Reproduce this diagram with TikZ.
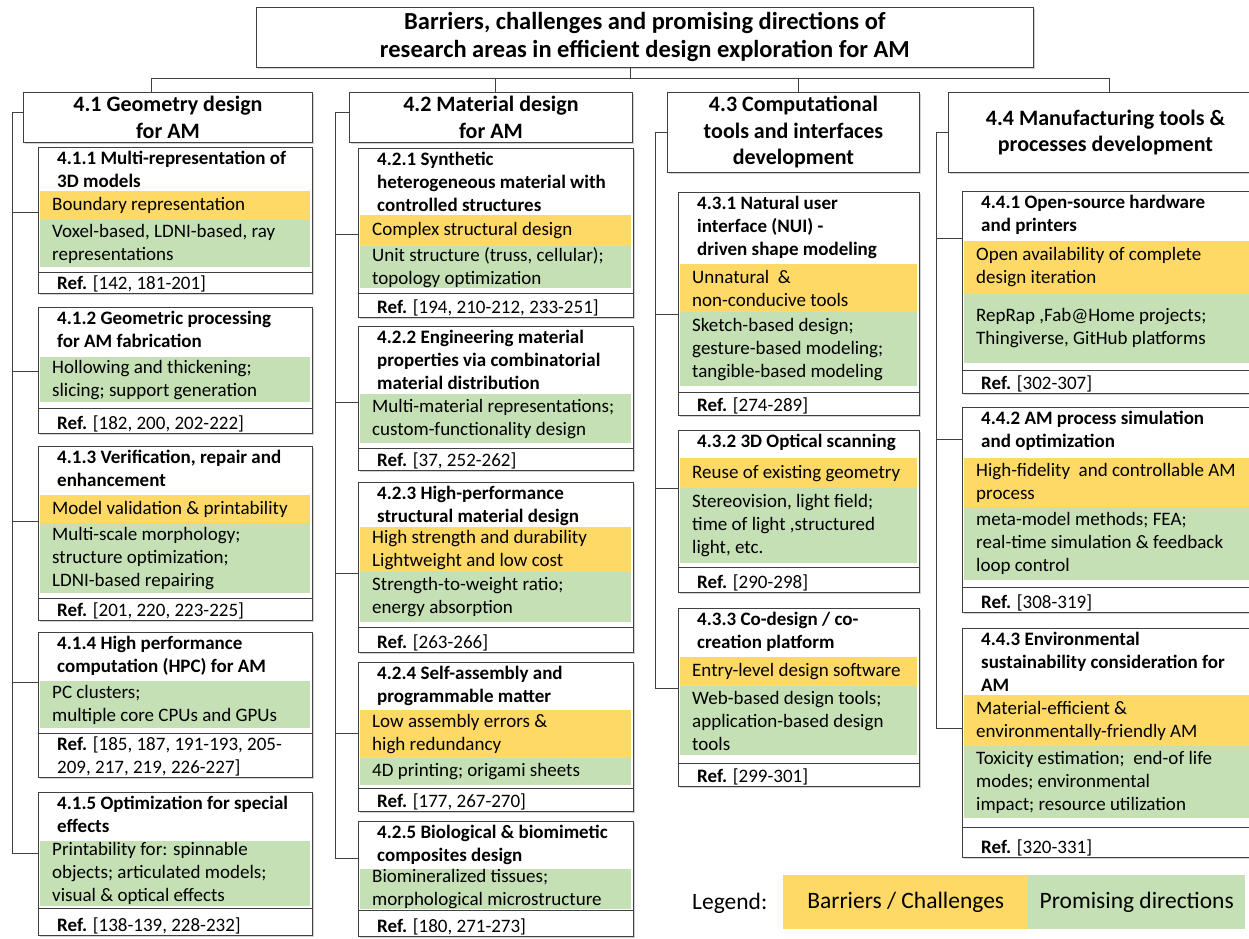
\documentclass[tikz,border=0pt]{standalone}
\usepackage{fontspec}
\setmainfont{Carlito}
\usepackage{tikz}
\usetikzlibrary{shadows}

\definecolor{barrierc}{HTML}{FFD966}
\definecolor{promisec}{HTML}{C5E0B4}
\definecolor{framec}{HTML}{404040}

\newcommand{\bodyfont}{\fontsize{19}{23}\selectfont}
\newcommand{\headfont}{\fontsize{22}{26.5}\selectfont\bfseries}
\newcommand{\legfont}{\fontsize{23.5}{28}\selectfont}

\tikzset{
  areabox/.style={draw=framec, line width=0.9pt, fill=white, anchor=north west, inner sep=0pt,
    drop shadow={shadow xshift=2pt, shadow yshift=-2pt, opacity=0.35}},
  areahead/.style={areabox, align=center, font=\headfont},
  subhead/.style={anchor=north west, xshift=19pt, yshift=-4pt, align=left, inner sep=0pt, font=\bodyfont\bfseries},
  challenge/.style={anchor=north west, fill=barrierc, inner sep=0pt},
  promising/.style={anchor=north west, fill=promisec, inner sep=0pt},
  bandtext/.style={anchor=west, xshift=12pt, align=left, inner sep=0pt, font=\bodyfont},
  reftext/.style={anchor=south west, xshift=19pt, yshift=2pt, align=left, inner sep=0pt, font=\bodyfont},
  divider/.style={draw=framec, line width=0.9pt},
  branch/.style={draw=framec, line width=0.8pt},
}

\begin{document}
\begin{tikzpicture}[x=1pt, y=-1pt]
\useasboundingbox (0,0) rectangle (1249,938);

% title and area headers
\node[areahead, minimum width=777, minimum height=60, font=\fontsize{24.5}{28}\selectfont\bfseries] (top) at (256,7)
  {Barriers, challenges and promising directions of\\research areas in efficient design exploration for AM};
\node[areahead, minimum width=289, minimum height=50] (h41) at (23,92) {4.1 Geometry design\\for AM};
\node[areahead, minimum width=283, minimum height=50] (h42) at (349,92) {4.2 Material design\\for AM};
\node[areahead, minimum width=252, minimum height=80] (h43) at (667,92) {4.3 Computational\\tools and interfaces\\development};
\node[areahead, minimum width=314, minimum height=80] (h44) at (948,92) {4.4 Manufacturing tools \&\\processes development};

\draw[branch] ([xshift=-14.5pt]top.south) -- ++(0,11);
\draw[branch] ([xshift=-17pt]h41.north) |- ([xshift=4pt]h44.north |- 0,78) -- ([xshift=4pt]h44.north);
\draw[branch] ([xshift=4.5pt]h42.north) -- ([xshift=4.5pt]h42.north |- 0,78);
\draw[branch] ([xshift=5pt]h43.north) -- ([xshift=5pt]h43.north |- 0,78);

% 4.1
\node[areabox, minimum width=274, minimum height=146] (b411) at (38,147) {};
\node[subhead] (b411t) at (b411.north west) {4.1.1 Multi-representation of\\3D models};
\node[challenge, minimum width=270, minimum height=29] (b411o) at (40,191) {};
\node[bandtext] (b411ot) at (b411o.west) {Boundary representation};
\node[promising, minimum width=270, minimum height=47] (b411g) at (40,220) {};
\node[bandtext] (b411gt) at (b411g.west) {Voxel-based, LDNI-based, ray\\representations};
\draw[divider] (b411.west |- 0,272) -- (b411.east |- 0,272);
\node[reftext] (b411r) at (b411.south west) {\textbf{Ref.} [142, 181-201]};

\node[areabox, minimum width=274, minimum height=126] (b412) at (38,307) {};
\node[subhead] (b412t) at (b412.north west) {4.1.2 Geometric processing\\for AM fabrication};
\node[promising, minimum width=270, minimum height=45] (b412g) at (40,357) {};
\node[bandtext] (b412gt) at (b412g.west) {Hollowing and thickening;\\slicing; support generation};
\draw[divider] (b412.west |- 0,408) -- (b412.east |- 0,408);
\node[reftext] (b412r) at (b412.south west) {\textbf{Ref.} [182, 200, 202-222]};

\node[areabox, minimum width=274, minimum height=174] (b413) at (38,446) {};
\node[subhead] (b413t) at (b413.north west) {4.1.3 Verification, repair and\\enhancement};
\node[challenge, minimum width=270, minimum height=28] (b413o) at (40,495) {};
\node[bandtext] (b413ot) at (b413o.west) {Model validation \& printability};
\node[promising, minimum width=270, minimum height=70] (b413g) at (40,523) {};
\node[bandtext] (b413gt) at (b413g.west) {Multi-scale morphology;\\structure optimization;\\LDNI-based repairing};
\draw[divider] (b413.west |- 0,598) -- (b413.east |- 0,598);
\node[reftext] (b413r) at (b413.south west) {\textbf{Ref.} [201, 220, 223-225]};

\node[areabox, minimum width=274, minimum height=145] (b414) at (38,632) {};
\node[subhead] (b414t) at (b414.north west) {4.1.4 High performance\\computation (HPC) for AM};
\node[promising, minimum width=270, minimum height=47] (b414g) at (40,681) {};
\node[bandtext] (b414gt) at (b414g.west) {PC clusters;\\multiple core CPUs and GPUs};
\draw[divider] (b414.west |- 0,733) -- (b414.east |- 0,733);
\node[reftext] (b414r) at (b414.south west) {\textbf{Ref.} [185, 187, 191-193, 205-\\209, 217, 219, 226-227]};

\node[areabox, minimum width=274, minimum height=143] (b415) at (38,792) {};
\node[subhead] (b415t) at (b415.north west) {4.1.5 Optimization for special\\effects};
\node[promising, minimum width=270, minimum height=65] (b415g) at (40,841) {};
\node[bandtext] (b415gt) at (b415g.west) {Printability for: spinnable\\objects; articulated models;\\visual \& optical effects};
\draw[divider] (b415.west |- 0,908) -- (b415.east |- 0,908);
\node[reftext] (b415r) at (b415.south west) {\textbf{Ref.} [138-139, 228-232]};

\draw[branch] ([yshift=5pt]h41.west) -- ++(-11,0) coordinate (tr41) -- (tr41 |- 0,853);
\foreach \b/\y in {b411/212, b412/371, b413/521, b414/682, b415/853}
  \draw[branch] (tr41 |- 0,\y) -- (\b.west |- 0,\y);

% 4.2
\node[areabox, minimum width=275, minimum height=169] (b421) at (358,148) {};
\node[subhead] (b421t) at (b421.north west) {4.2.1 Synthetic\\heterogeneous material with\\controlled structures};
\node[challenge, minimum width=271, minimum height=31] (b421o) at (360,215) {};
\node[bandtext] (b421ot) at (b421o.west) {Complex structural design};
\node[promising, minimum width=271, minimum height=42] (b421g) at (360,246) {};
\node[bandtext] (b421gt) at (b421g.west) {Unit structure (truss, cellular);\\topology optimization};
\draw[divider] (b421.west |- 0,293) -- (b421.east |- 0,293);
\node[reftext] (b421r) at (b421.south west) {\textbf{Ref.} [194, 210-212, 233-251]};

\node[areabox, minimum width=275, minimum height=144] (b422) at (358,326) {};
\node[subhead] (b422t) at (b422.north west) {4.2.2 Engineering material\\properties via combinatorial\\material distribution};
\node[promising, minimum width=271, minimum height=49] (b422g) at (360,394) {};
\node[bandtext] (b422gt) at (b422g.west) {Multi-material representations;\\custom-functionality design};
\draw[divider] (b422.west |- 0,448) -- (b422.east |- 0,448);
\node[reftext] (b422r) at (b422.south west) {\textbf{Ref.} [37, 252-262]};

\node[areabox, minimum width=275, minimum height=170] (b423) at (358,482) {};
\node[subhead] (b423t) at (b423.north west) {4.2.3 High-performance\\structural material design};
\node[challenge, minimum width=271, minimum height=45] (b423o) at (360,527) {};
\node[bandtext] (b423ot) at (b423o.west) {High strength and durability\\Lightweight and low cost};
\node[promising, minimum width=271, minimum height=50] (b423g) at (360,572) {};
\node[bandtext] (b423gt) at (b423g.west) {Strength-to-weight ratio;\\energy absorption};
\draw[divider] (b423.west |- 0,627) -- (b423.east |- 0,627);
\node[reftext] (b423r) at (b423.south west) {\textbf{Ref.} [263-266]};

\node[areabox, minimum width=275, minimum height=149] (b424) at (358,662) {};
\node[subhead] (b424t) at (b424.north west) {4.2.4 Self-assembly and\\programmable matter};
\node[challenge, minimum width=271, minimum height=48] (b424o) at (360,710) {};
\node[bandtext] (b424ot) at (b424o.west) {Low assembly errors \&\\high redundancy};
\node[promising, minimum width=271, minimum height=27] (b424g) at (360,758) {};
\node[bandtext] (b424gt) at (b424g.west) {4D printing; origami sheets};
\draw[divider] (b424.west |- 0,788) -- (b424.east |- 0,788);
\node[reftext] (b424r) at (b424.south west) {\textbf{Ref.} [177, 267-270]};

\node[areabox, minimum width=275, minimum height=115] (b425) at (358,821) {};
\node[subhead] (b425t) at (b425.north west) {4.2.5 Biological \& biomimetic\\composites design};
\node[promising, minimum width=271, minimum height=40] (b425g) at (360,869) {};
\node[bandtext] (b425gt) at (b425g.west) {Biomineralized tissues;\\morphological microstructure};
\draw[divider] (b425.west |- 0,910) -- (b425.east |- 0,910);
\node[reftext] (b425r) at (b425.south west) {\textbf{Ref.} [180, 271-273]};

\draw[branch] ([yshift=5pt]h42.west) -- ++(-14,0) coordinate (tr42) -- (tr42 |- 0,858);
\foreach \b/\y in {b421/234, b422/402, b423/573, b424/733, b425/858}
  \draw[branch] (tr42 |- 0,\y) -- (\b.west |- 0,\y);

% 4.3
\node[areabox, minimum width=241, minimum height=223] (b431) at (678,192) {};
\node[subhead] (b431t) at (b431.north west) {4.3.1 Natural user\\interface (NUI) -\\driven shape modeling};
\node[challenge, minimum width=237, minimum height=48] (b431o) at (680,264) {};
\node[bandtext] (b431ot) at (b431o.west) {Unnatural\ \ \&\\non-conducive tools};
\node[promising, minimum width=237, minimum height=74] (b431g) at (680,312) {};
\node[bandtext] (b431gt) at (b431g.west) {Sketch-based design;\\gesture-based modeling;\\tangible-based modeling};
\draw[divider] (b431.west |- 0,392) -- (b431.east |- 0,392);
\node[reftext] (b431r) at (b431.south west) {\textbf{Ref.} [274-289]};

\node[areabox, minimum width=241, minimum height=162] (b432) at (678,430) {};
\node[subhead] (b432t) at (b432.north west) {4.3.2 3D Optical scanning};
\node[challenge, minimum width=237, minimum height=30] (b432o) at (680,458) {};
\node[bandtext] (b432ot) at (b432o.west) {Reuse of existing geometry};
\node[promising, minimum width=237, minimum height=75] (b432g) at (680,488) {};
\node[bandtext] (b432gt) at (b432g.west) {Stereovision, light field;\\time of light ,structured\\light, etc.};
\draw[divider] (b432.west |- 0,567) -- (b432.east |- 0,567);
\node[reftext] (b432r) at (b432.south west) {\textbf{Ref.} [290-298]};

\node[areabox, minimum width=241, minimum height=178] (b433) at (678,608) {};
\node[subhead] (b433t) at (b433.north west) {4.3.3 Co-design / co-\\creation platform};
\node[challenge, minimum width=237, minimum height=29] (b433o) at (680,657) {};
\node[bandtext] (b433ot) at (b433o.west) {Entry-level design software};
\node[promising, minimum width=237, minimum height=69] (b433g) at (680,686) {};
\node[bandtext] (b433gt) at (b433g.west) {Web-based design tools;\\application-based design\\tools};
\draw[divider] (b433.west |- 0,763) -- (b433.east |- 0,763);
\node[reftext] (b433r) at (b433.south west) {\textbf{Ref.} [299-301]};

\draw[branch] (h43.west) -- ++(-12,0) coordinate (tr43) -- (tr43 |- 0,688);
\foreach \b/\y in {b431/314, b432/488, b433/688}
  \draw[branch] (tr43 |- 0,\y) -- (\b.west |- 0,\y);

% 4.4
\node[areabox, minimum width=300, minimum height=202] (b441) at (962,191) {};
\node[subhead] (b441t) at (b441.north west) {4.4.1 Open-source hardware\\and printers};
\node[challenge, minimum width=296, minimum height=52] (b441o) at (964,241) {};
\node[bandtext] (b441ot) at (b441o.west) {Open availability of complete\\design iteration};
\node[promising, minimum width=296, minimum height=70] (b441g) at (964,293) {};
\node[bandtext] (b441gt) at (b441g.west) {RepRap ,Fab@Home projects;\\Thingiverse, GitHub platforms};
\draw[divider] (b441.west |- 0,370) -- (b441.east |- 0,370);
\node[reftext] (b441r) at (b441.south west) {\textbf{Ref.} [302-307]};

\node[areabox, minimum width=300, minimum height=205] (b442) at (962,407) {};
\node[subhead] (b442t) at (b442.north west) {4.4.2 AM process simulation\\and optimization};
\node[challenge, minimum width=296, minimum height=49] (b442o) at (964,458) {};
\node[bandtext] (b442ot) at (b442o.west) {High-fidelity\ \ and controllable AM\\process};
\node[promising, minimum width=296, minimum height=73] (b442g) at (964,507) {};
\node[bandtext] (b442gt) at (b442g.west) {meta-model methods; FEA;\\real-time simulation \& feedback\\loop control};
\draw[divider] (b442.west |- 0,587) -- (b442.east |- 0,587);
\node[reftext] (b442r) at (b442.south west) {\textbf{Ref.} [308-319]};

\node[areabox, minimum width=300, minimum height=229] (b443) at (962,628) {};
\node[subhead] (b443t) at (b443.north west) {4.4.3 Environmental\\sustainability consideration for\\AM};
\node[challenge, minimum width=296, minimum height=51] (b443o) at (964,695) {};
\node[bandtext] (b443ot) at (b443o.west) {Material-efficient \&\\environmentally-friendly AM};
\node[promising, minimum width=296, minimum height=72] (b443g) at (964,746) {};
\node[bandtext] (b443gt) at (b443g.west) {Toxicity estimation;\ \ end-of life\\modes; environmental\\impact; resource utilization};
\draw[divider] (b443.west |- 0,827) -- (b443.east |- 0,827);
\node[reftext] (b443r) at (b443.south west) {\textbf{Ref.} [320-331]};

\draw[branch] (h44.west) -- ++(-12,0) coordinate (tr44) -- (tr44 |- 0,728);
\foreach \b/\y in {b441/238, b442/439, b443/728}
  \draw[branch] (tr44 |- 0,\y) -- (\b.west |- 0,\y);

% legend
\node[anchor=west, inner sep=0pt, font=\legfont] (leg) at (692,903) {Legend:};
\node[challenge, minimum width=245, minimum height=54, font=\legfont] (legb) at (783,875) {Barriers / Challenges};
\node[promising, minimum width=217, minimum height=54, font=\legfont] (legp) at (1028,875) {Promising directions};
\end{tikzpicture}
\end{document}
